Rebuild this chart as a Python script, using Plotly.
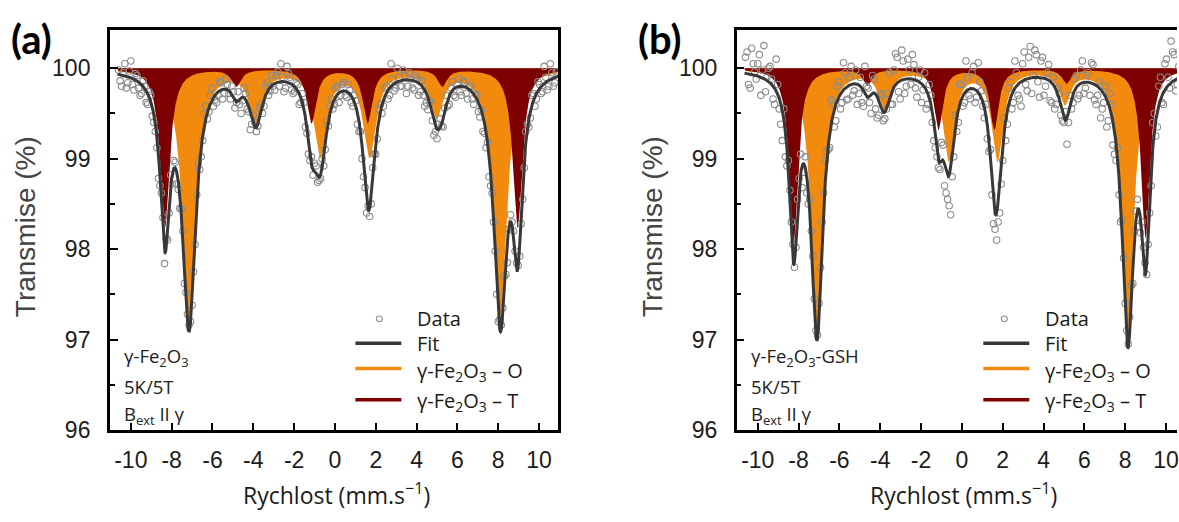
import numpy as np
import plotly.graph_objects as go

W, H = 1179, 522

# Velocity channels (mm/s) shared by both spectra
velocity = [
    -10.6, -10.45, -10.3, -10.15, -10.0, -9.85, -9.7, -9.55, -9.4, -9.25,
    -9.1, -8.95, -8.8, -8.65, -8.5, -8.35, -8.2, -8.05, -7.9, -7.75,
    -7.6, -7.45, -7.3, -7.15, -7.0, -6.85, -6.7, -6.55, -6.4, -6.25,
    -6.1, -5.95, -5.8, -5.65, -5.5, -5.35, -5.2, -5.05, -4.9, -4.75,
    -4.6, -4.45, -4.3, -4.15, -4.0, -3.85, -3.7, -3.55, -3.4, -3.25,
    -3.1, -2.95, -2.8, -2.65, -2.5, -2.35, -2.2, -2.05, -1.9, -1.75,
    -1.6, -1.45, -1.3, -1.15, -1.0, -0.85, -0.7, -0.55, -0.4, -0.25,
    -0.1, 0.05, 0.2, 0.35, 0.5, 0.65, 0.8, 0.95, 1.1, 1.25,
    1.4, 1.55, 1.7, 1.85, 2.0, 2.15, 2.3, 2.45, 2.6, 2.75,
    2.9, 3.05, 3.2, 3.35, 3.5, 3.65, 3.8, 3.95, 4.1, 4.25,
    4.4, 4.55, 4.7, 4.85, 5.0, 5.15, 5.3, 5.45, 5.6, 5.75,
    5.9, 6.05, 6.2, 6.35, 6.5, 6.65, 6.8, 6.95, 7.1, 7.25,
    7.4, 7.55, 7.7, 7.85, 8.0, 8.15, 8.3, 8.45, 8.6, 8.75,
    8.9, 9.05, 9.2, 9.35, 9.5, 9.65, 9.8, 9.95, 10.1, 10.25,
    10.4, 10.55, 10.7, 10.85,
]

# Intermediate velocity channels
velocity_mid = [
    -10.525, -10.375, -10.225, -10.075, -9.925, -9.775, -9.625, -9.475, -9.325, -9.175,
    -9.025, -8.875, -8.725, -8.575, -8.425, -8.275, -8.125, -7.975, -7.825, -7.675,
    -7.525, -7.375, -7.225, -7.075, -6.925, -6.775, -6.625, -6.475, -6.325, -6.175,
    -6.025, -5.875, -5.725, -5.575, -5.425, -5.275, -5.125, -4.975, -4.825, -4.675,
    -4.525, -4.375, -4.225, -4.075, -3.925, -3.775, -3.625, -3.475, -3.325, -3.175,
    -3.025, -2.875, -2.725, -2.575, -2.425, -2.275, -2.125, -1.975, -1.825, -1.675,
    -1.525, -1.375, -1.225, -1.075, -0.925, -0.775, -0.625, -0.475, -0.325, -0.175,
    -0.025, 0.125, 0.275, 0.425, 0.575, 0.725, 0.875, 1.025, 1.175, 1.325,
    1.475, 1.625, 1.775, 1.925, 2.075, 2.225, 2.375, 2.525, 2.675, 2.825,
    2.975, 3.125, 3.275, 3.425, 3.575, 3.725, 3.875, 4.025, 4.175, 4.325,
    4.475, 4.625, 4.775, 4.925, 5.075, 5.225, 5.375, 5.525, 5.675, 5.825,
    5.975, 6.125, 6.275, 6.425, 6.575, 6.725, 6.875, 7.025, 7.175, 7.325,
    7.475, 7.625, 7.775, 7.925, 8.075, 8.225, 8.375, 8.525, 8.675, 8.825,
    8.975, 9.125, 9.275, 9.425, 9.575, 9.725, 9.875, 10.025, 10.175, 10.325,
    10.475, 10.625, 10.775,
]

# Measured transmission (%) -- gamma-Fe2O3
transmission_a = [
    99.98, 99.80, 100.05, 99.84, 100.08, 99.76, 99.92, 99.70, 99.86, 99.62,
    99.74, 99.47, 99.30, 98.78, 98.62, 97.84, 98.10, 98.82, 98.98, 98.72,
    98.45, 98.20, 97.52, 97.16, 97.38, 98.05, 98.95, 99.02, 99.50, 99.44,
    99.70, 99.58, 99.62, 99.85, 99.66, 99.88, 99.72, 99.80, 99.56, 99.74,
    99.50, 99.78, 99.55, 99.32, 99.48, 99.30, 99.56, 99.50, 99.80, 99.70,
    99.92, 99.76, 99.96, 100.05, 99.74, 100.02, 99.90, 99.72, 99.84, 99.60,
    99.72, 99.35, 99.05, 99.02, 98.95, 98.74, 98.78, 98.92, 99.42, 99.58,
    99.55, 99.78, 99.62, 99.82, 99.70, 99.82, 99.62, 99.70, 99.38, 99.30,
    98.80, 98.40, 98.36, 98.90, 99.05, 99.55, 99.50, 99.78, 99.66, 100.05,
    99.75, 100.00, 99.80, 99.98, 99.72, 99.95, 99.78, 99.92, 99.70, 99.86,
    99.58, 99.54, 99.62, 99.26, 99.22, 99.44, 99.35, 99.70, 99.60, 99.85,
    99.68, 99.88, 99.70, 99.84, 99.66, 99.80, 99.60, 99.70, 99.46, 99.30,
    99.12, 98.80, 98.62, 97.98, 97.20, 97.16, 97.70, 97.85, 98.38, 98.20,
    97.85, 97.92, 98.55, 99.30, 99.35, 99.70, 99.58, 99.85, 99.72, 100.02,
    99.76, 100.05, 99.80, 99.96,
]
transmission_a_mid = [
    99.86, 99.95, 99.78, 99.97, 99.82, 99.94, 99.78, 99.72, 99.80, 99.60,
    99.70, 99.40, 99.12, 98.70, 98.35, 98.12, 98.40, 98.72, 98.96, 98.66,
    98.45, 97.62, 97.28, 97.20, 97.75, 98.60, 98.88, 99.20, 99.58, 99.52,
    99.78, 99.65, 99.70, 99.84, 99.72, 99.82, 99.66, 99.74, 99.62, 99.60,
    99.64, 99.72, 99.52, 99.38, 99.40, 99.36, 99.60, 99.58, 99.84, 99.75,
    99.80, 99.92, 99.80, 99.90, 99.78, 99.94, 99.76, 99.74, 99.82, 99.62,
    99.62, 99.28, 98.98, 98.82, 98.92, 98.76, 99.00, 99.10, 99.36, 99.66,
    99.60, 99.80, 99.70, 99.84, 99.68, 99.76, 99.58, 99.64, 99.30, 99.00,
    98.68, 98.48, 98.50, 99.05, 99.22, 99.60, 99.58, 99.80, 99.70, 99.88,
    99.78, 99.90, 99.80, 99.92, 99.80, 99.88, 99.76, 99.88, 99.74, 99.70,
    99.62, 99.64, 99.42, 99.30, 99.38, 99.36, 99.56, 99.58, 99.78, 99.70,
    99.82, 99.74, 99.86, 99.72, 99.80, 99.66, 99.72, 99.52, 99.54, 99.28,
    99.18, 98.70, 98.30, 97.50, 97.22, 97.35, 97.72, 98.22, 98.30, 97.98,
    97.82, 98.28, 98.90, 99.38, 99.45, 99.72, 99.66, 99.82, 99.74, 99.90,
    99.80, 99.95, 99.84,
]

# Measured transmission (%) -- gamma-Fe2O3-GSH
transmission_b = [
    100.12, 99.82, 100.22, 99.96, 100.05, 99.70, 100.25, 99.90, 100.02, 99.66,
    100.10, 99.55, 99.20, 99.02, 98.98, 98.30, 97.80, 98.55, 99.05, 98.85,
    98.62, 98.55, 97.92, 97.10, 97.40, 98.30, 98.98, 99.10, 99.65, 99.35,
    99.80, 99.55, 100.06, 99.65, 99.90, 99.70, 99.98, 99.72, 99.62, 100.02,
    99.78, 99.50, 99.88, 99.45, 99.72, 99.42, 99.55, 99.95, 99.60, 100.16,
    99.74, 100.20, 99.72, 100.10, 99.82, 100.04, 99.68, 99.98, 99.76, 99.55,
    99.82, 99.40, 99.12, 98.90, 99.18, 98.70, 98.55, 98.38, 99.02, 99.30,
    99.82, 99.58, 100.08, 99.70, 99.95, 99.62, 100.06, 99.75, 99.45, 99.22,
    99.10, 98.28, 98.10, 98.40, 98.98, 99.20, 99.78, 99.55, 100.08, 99.70,
    99.58, 100.18, 99.75, 100.24, 99.92, 100.15, 99.68, 100.12, 99.80, 100.04,
    99.62, 99.55, 99.78, 99.48, 99.40, 99.16, 99.70, 99.62, 99.92, 99.70,
    100.08, 99.78, 99.95, 100.06, 99.65, 99.70, 99.45, 99.62, 99.35, 99.72,
    99.15, 98.98, 98.60, 98.32, 97.40, 96.95, 97.60, 98.20, 98.55, 98.18,
    98.02, 97.72, 98.40, 99.40, 99.25, 99.80, 99.62, 100.05, 99.90, 100.30,
    100.15, 99.82, 100.20, 99.95,
]
transmission_b_mid = [
    100.18, 99.78, 100.05, 99.88, 100.15, 99.98, 99.74, 100.00, 99.88, 99.60,
    99.82, 99.38, 99.55, 98.92, 98.65, 98.05, 98.02, 98.78, 98.68, 99.02,
    98.50, 98.20, 97.45, 97.05, 97.80, 98.62, 99.08, 99.12, 99.60, 99.42,
    99.85, 99.62, 99.95, 99.66, 100.02, 99.75, 99.60, 99.90, 99.58, 99.80,
    99.62, 99.92, 99.55, 99.48, 99.70, 99.44, 99.72, 99.60, 99.98, 100.12,
    99.66, 100.08, 99.80, 99.98, 100.15, 99.78, 99.90, 99.62, 99.95, 99.60,
    99.70, 99.20, 99.02, 98.88, 99.15, 98.62, 98.48, 98.80, 99.48, 99.40,
    99.82, 99.62, 99.90, 99.66, 100.02, 99.68, 99.85, 99.58, 99.60, 99.08,
    98.60, 98.22, 98.30, 98.72, 99.45, 99.38, 99.85, 99.62, 99.95, 99.66,
    100.05, 99.82, 100.12, 99.72, 100.20, 99.85, 100.08, 99.70, 99.95, 99.64,
    99.90, 99.60, 99.72, 99.42, 99.52, 99.40, 99.55, 99.88, 99.66, 99.98,
    99.72, 99.92, 99.70, 100.04, 99.60, 99.85, 99.55, 99.80, 99.42, 99.60,
    99.05, 99.12, 98.30, 97.90, 97.10, 97.25, 97.62, 98.42, 98.25, 98.30,
    97.85, 98.05, 98.70, 99.50, 99.35, 99.90, 99.60, 100.10, 99.78, 100.18,
    99.75, 100.02, 99.85,
]

# Fitted Lorentzian sextets: line positions (mm/s), depths (%), half-widths (mm/s)
tet_pos_a = [-8.33, -4.84, -1.15, 1.60, 5.26, 8.95]
tet_depth_a = [1.76, 0.19, 0.60, 0.60, 0.19, 1.76]
oct_pos_a = [-7.15, -3.88, -0.72, 1.70, 4.98, 8.10]
oct_depth_a = [2.80, 0.57, 0.95, 0.95, 0.50, 2.72]
tet_hwhm_a = 0.28
oct_hwhm_a = 0.38

tet_pos_b = [-8.24, -4.63, -1.15, 1.59, 5.12, 9.00]
tet_depth_b = [1.92, 0.18, 0.67, 0.67, 0.16, 1.88]
oct_pos_b = [-7.10, -3.81, -0.64, 1.74, 5.04, 8.13]
oct_depth_b = [2.90, 0.41, 1.00, 1.00, 0.36, 2.92]
tet_hwhm_b = 0.26
oct_hwhm_b = 0.34

x_ticks = [-10, -8, -6, -4, -2, 0, 2, 4, 6, 8, 10]
x_tick_text = ["-10", "-8", "-6", "-4", "-2", "0", "2", "4", "6", "8", "10"]
y_ticks = [96, 97, 98, 99, 100]
y_tick_text = ["96", "97", "98", "99", "100"]

ORANGE = "#f28a0e"
DARKRED = "#7c0000"
FIT = "#383838"
DOTS = "#8c8c8c"


def sextet(v, pos, depth, hwhm):
    v = np.asarray(v, dtype=float)
    total = np.zeros_like(v)
    for p, d in zip(pos, depth):
        total += d * hwhm ** 2 / ((v - p) ** 2 + hwhm ** 2)
    return total


def px(x):
    return x / W


def py(y):
    return 1 - y / H


fig = go.Figure()

panels = [
    dict(xa="x", ya="y", data=transmission_a, data_mid=transmission_a_mid,
         tpos=tet_pos_a, tdep=tet_depth_a, thw=tet_hwhm_a,
         opos=oct_pos_a, odep=oct_depth_a, ohw=oct_hwhm_a, v_end=10.93),
    dict(xa="x2", ya="y2", data=transmission_b, data_mid=transmission_b_mid,
         tpos=tet_pos_b, tdep=tet_depth_b, thw=tet_hwhm_b,
         opos=oct_pos_b, odep=oct_depth_b, ohw=oct_hwhm_b, v_end=10.9),
]

for p in panels:
    grid = np.linspace(-10.65, p["v_end"], 2400)
    t_abs = sextet(grid, p["tpos"], p["tdep"], p["thw"])
    o_abs = sextet(grid, p["opos"], p["odep"], p["ohw"])
    gx = np.concatenate([[grid[0]], grid, [grid[-1]]])
    # octahedral subspectrum
    fig.add_trace(go.Scatter(
        x=gx, y=np.concatenate([[100], 100 - o_abs, [100]]),
        mode="lines", fill="toself", fillcolor=ORANGE,
        line=dict(width=0, color=ORANGE), xaxis=p["xa"], yaxis=p["ya"],
        hoverinfo="skip"))
    # tetrahedral subspectrum
    fig.add_trace(go.Scatter(
        x=gx, y=np.concatenate([[100], 100 - t_abs, [100]]),
        mode="lines", fill="toself", fillcolor=DARKRED,
        line=dict(width=0, color=DARKRED), xaxis=p["xa"], yaxis=p["ya"],
        hoverinfo="skip"))
    # measured points
    fig.add_trace(go.Scatter(
        x=velocity + velocity_mid, y=p["data"] + p["data_mid"], mode="markers",
        marker=dict(symbol="circle-open", size=6.5, color=DOTS,
                    line=dict(width=1.1, color=DOTS)),
        xaxis=p["xa"], yaxis=p["ya"]))
    # total fit
    fig.add_trace(go.Scatter(
        x=grid, y=100 - t_abs - o_abs, mode="lines",
        line=dict(color=FIT, width=3), xaxis=p["xa"], yaxis=p["ya"]))

y_dom = [py(441), py(31)]
tickfont = dict(family="Arial, Liberation Sans", size=23, color="#1c1c1c")

common_x = dict(
    tickmode="array", tickvals=x_ticks, ticktext=x_tick_text,
    ticks="inside", ticklen=7, tickwidth=2, tickcolor="black",
    showline=True, linewidth=2.5, linecolor="black",
    showgrid=False, zeroline=False, tickfont=tickfont,
    ticklabelstandoff=8, ticklabeloverflow="allow",
)
common_y = dict(
    tickmode="array", tickvals=y_ticks, ticktext=y_tick_text,
    range=[96, 100.42],
    ticks="inside", ticklen=8, tickwidth=2, tickcolor="black",
    minor=dict(tickmode="array", tickvals=[96.5, 97.5, 98.5, 99.5],
               ticks="inside", ticklen=5, tickwidth=1.5, tickcolor="black"),
    showline=True, linewidth=2.5, linecolor="black",
    showgrid=False, zeroline=False, tickfont=tickfont,
    ticklabelstandoff=12,
)

fig.update_layout(
    width=W, height=H,
    margin=dict(l=0, r=0, t=0, b=0),
    paper_bgcolor="white", plot_bgcolor="white",
    showlegend=False,
    xaxis=dict(domain=[px(110), px(559)], range=[-11.03, 10.93],
               anchor="y", mirror=True, **common_x),
    yaxis=dict(domain=y_dom, anchor="x", mirror=True, **common_y),
    xaxis2=dict(domain=[px(738), 1.0], range=[-11.03, 10.54],
                anchor="y2", mirror=True, **common_x),
    yaxis2=dict(domain=y_dom, anchor="x2", mirror=False, **common_y),
)

ann = []
shapes = []
label_font = dict(family="Open Sans", size=18.5, color="#222")
legend_font = dict(family="Open Sans", size=20, color="#1a1a1a")


def text(x, y, s, font, xanchor="left", yanchor="middle", angle=0):
    ann.append(dict(x=px(x), y=py(y), xref="paper", yref="paper", text=s,
                    showarrow=False, xanchor=xanchor, yanchor=yanchor,
                    font=font, textangle=angle))


fe2o3 = "\u03b3-Fe<sub>2</sub>O<sub>3</sub>"

for (ox, panel_tag, sample, legx, markx) in [
        (0, "(a)", fe2o3, 356, 380),
        (628, "(b)", fe2o3 + "-GSH", 985, 1006)]:
    # panel tag
    text(9 + ox, 40, "<b>" + panel_tag + "</b>",
         dict(family="Lato", size=40, color="black"))
    # axis titles
    text(25 + ox, 232, "Transmise (%)",
         dict(family="Arial, Liberation Sans", size=28, color="#444"),
         xanchor="center", angle=-90)
    text(337 + ox, 507, "Rychlost (mm.s<sup>\u22121</sup>)",
         dict(family="Open Sans", size=23, color="#1a1a1a"), xanchor="center")
    # sample conditions
    text(122 + ox, 383, sample, label_font, yanchor="bottom")
    text(122 + ox, 396, "5K/5T", label_font)
    text(122 + ox, 409, "B<sub>ext</sub> II \u03b3", label_font, yanchor="top")
    # legend
    shapes.append(dict(type="circle", xref="paper", yref="paper",
                       x0=px(markx - 3), x1=px(markx + 3),
                       y0=py(327 + 3), y1=py(327 - 3),
                       line=dict(color=DOTS, width=1.1)))
    for yy, col in [(352, FIT), (378, ORANGE), (410, DARKRED)]:
        shapes.append(dict(type="line", xref="paper", yref="paper",
                           x0=px(legx), x1=px(legx + 46), y0=py(yy), y1=py(yy),
                           line=dict(color=col, width=3.5)))
    text(legx + 60, 327, "Data", legend_font)
    text(legx + 60, 352, "Fit", legend_font)
    text(legx + 60, 381, fe2o3 + " \u2013 O", legend_font)
    text(legx + 60, 412, fe2o3 + " \u2013 T", legend_font)

fig.update_layout(annotations=ann, shapes=shapes)
fig.write_html("out.html")
